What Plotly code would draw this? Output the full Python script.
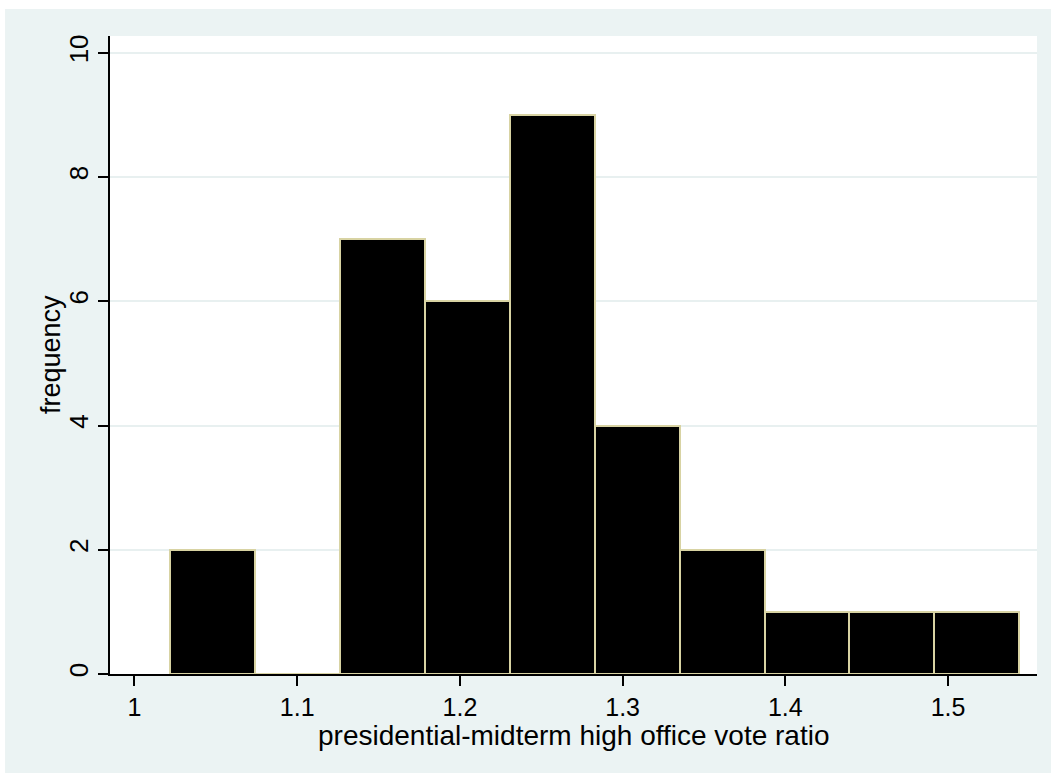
import plotly.graph_objects as go

# Histogram of the presidential / midterm high-office vote ratio
bin_edges = [1.0218, 1.0740, 1.1262, 1.1784, 1.2306, 1.2828,
             1.3350, 1.3872, 1.4394, 1.4916, 1.5438]
counts = [2, 0, 7, 6, 9, 4, 2, 1, 1, 1]

x_ticks = [1, 1.1, 1.2, 1.3, 1.4, 1.5]
x_tick_labels = ["1", "1.1", "1.2", "1.3", "1.4", "1.5"]
y_ticks = [0, 2, 4, 6, 8, 10]
y_tick_labels = ["0", "2", "4", "6", "8", "10"]

x_title = "presidential-midterm high office vote ratio"
y_title = "frequency"

centers = [(a + b) / 2 for a, b in zip(bin_edges[:-1], bin_edges[1:])]
widths = [b - a for a, b in zip(bin_edges[:-1], bin_edges[1:])]

BG = "#ebf3f3"
FONT = "Liberation Sans"

fig = go.Figure(
    go.Bar(
        x=centers,
        y=counts,
        width=widths,
        marker=dict(color="black", line=dict(color="#d8d3a3", width=2)),
        hoverinfo="x+y",
    )
)

fig.update_layout(
    width=1051,
    height=773,
    margin=dict(l=110, r=13.5, t=36, b=99),
    paper_bgcolor=BG,
    plot_bgcolor="white",
    showlegend=False,
    font=dict(family=FONT, size=26, color="black"),
    bargap=0,
    xaxis=dict(
        range=[0.98495, 1.55467],
        tickvals=x_ticks,
        ticktext=x_tick_labels,
        ticks="outside",
        ticklen=10,
        tickwidth=2,
        tickcolor="black",
        showline=True,
        linecolor="black",
        linewidth=2,
        showgrid=False,
        zeroline=False,
        tickfont=dict(family=FONT, size=25, color="black"),
    ),
    yaxis=dict(
        range=[0, 10.27],
        tickvals=y_ticks,
        ticktext=y_tick_labels,
        tickangle=-90,
        ticks="outside",
        ticklen=10,
        tickwidth=2,
        tickcolor="black",
        showline=True,
        linecolor="black",
        linewidth=2,
        showgrid=True,
        gridcolor="#e8f0f0",
        gridwidth=2,
        zeroline=False,
        tickfont=dict(family=FONT, size=26, color="black"),
    ),
    annotations=[
        dict(
            text=x_title, xref="paper", yref="paper",
            x=0.5, y=-0.096, xanchor="center", yanchor="middle",
            showarrow=False, font=dict(family=FONT, size=28, color="black"),
        ),
        dict(
            text=y_title, xref="paper", yref="paper",
            x=-0.0636, y=0.5, xanchor="center", yanchor="middle",
            textangle=-90, showarrow=False,
            font=dict(family=FONT, size=27, color="black"),
        ),
    ],
    shapes=[
        # white margins around the shaded graph region
        dict(type="rect", xref="paper", yref="paper", layer="below",
             x0=-0.2, x1=-0.1132, y0=-0.3, y1=1.2,
             fillcolor="white", line=dict(width=0)),
        dict(type="rect", xref="paper", yref="paper", layer="below",
             x0=-0.2, x1=1.2, y0=1.0423, y1=1.2,
             fillcolor="white", line=dict(width=0)),
    ],
)

fig.write_html("out.html")
